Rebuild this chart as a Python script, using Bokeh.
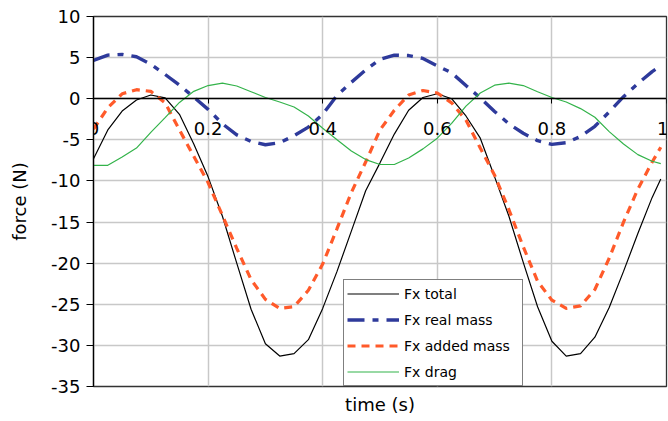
from bokeh.plotting import figure
from bokeh.models import (Range1d, FixedTicker, Legend, LegendItem, Title)
from bokeh.embed import file_html
from bokeh.resources import INLINE

# ---- data ----
time_s = [0.0, 0.025, 0.05, 0.075, 0.1, 0.125, 0.15, 0.175, 0.2, 0.225,
          0.25, 0.275, 0.3, 0.325, 0.35, 0.375, 0.4, 0.425, 0.45, 0.475,
          0.5, 0.525, 0.55, 0.575, 0.6, 0.625, 0.65, 0.675, 0.7, 0.725,
          0.75, 0.775, 0.8, 0.825, 0.85, 0.875, 0.9, 0.925, 0.95, 0.975, 0.99]

fx_total = [-7.3, -3.8, -1.5, -0.15, 0.45, 0.1, -1.9, -5.5, -9.5, -14.3,
            -20.0, -25.6, -29.8, -31.3, -31.0, -29.3, -25.5, -21.0, -16.1, -11.2,
            -7.8, -4.3, -1.4, 0.15, 0.6, 0.0, -2.1, -4.8, -9.5, -14.3,
            -19.9, -25.3, -29.5, -31.3, -31.0, -29.0, -25.4, -21.0, -16.4, -12.0, -9.75]

fx_real_mass = [4.65, 5.3, 5.4, 5.1, 4.2, 2.95, 1.65, 0.2, -1.3, -3.05,
                -4.4, -5.2, -5.6, -5.35, -4.5, -3.45, -1.9, 0.4, 2.0, 3.5,
                4.8, 5.3, 5.25, 4.9, 4.0, 3.15, 1.6, 0.1, -1.55, -3.05,
                -4.2, -5.1, -5.55, -5.35, -4.6, -3.35, -1.6, 0.25, 1.85, 3.3, 4.0]

fx_added_mass = [-3.7, -1.1, 0.6, 1.1, 0.9, -0.5, -3.8, -7.0, -10.2, -14.2,
                 -18.2, -22.0, -24.4, -25.5, -25.3, -23.3, -20.1, -15.8, -11.4, -7.7,
                 -3.8, -1.4, 0.45, 1.0, 0.7, -0.5, -2.6, -6.0, -9.3, -13.5,
                 -18.0, -22.2, -24.5, -25.5, -25.2, -23.2, -19.4, -15.0, -11.0, -7.7, -5.9]

fx_drag = [-8.1, -8.1, -7.1, -6.0, -4.1, -2.3, -0.45, 0.9, 1.6, 1.9,
           1.55, 0.85, 0.15, -0.4, -1.0, -2.1, -3.6, -5.0, -6.35, -7.4,
           -8.0, -8.0, -7.2, -6.1, -4.8, -3.0, -0.9, 0.7, 1.65, 1.9,
           1.6, 0.85, 0.15, -0.4, -1.2, -2.25, -4.0, -5.5, -6.8, -7.6, -7.9]

series_names = ["Fx total", "Fx real mass", "Fx added mass", "Fx drag"]

x_ticks = [0, 0.2, 0.4, 0.6, 0.8, 1]
x_tick_labels = ["0", "0.2", "0.4", "0.6", "0.8", "1"]
y_ticks = [-35, -30, -25, -20, -15, -10, -5, 0, 5, 10]
y_tick_labels = ["-35", "-30", "-25", "-20", "-15", "-10", "-5", "0", "5", "10"]

FONT = "DejaVu Sans"

p = figure(width=668, height=421, x_range=Range1d(0, 1), y_range=Range1d(-35, 10),
           output_backend="svg", toolbar_location=None,
           min_border_left=93, min_border_right=2, min_border_top=16, min_border_bottom=35)

p.background_fill_color = "white"
p.border_fill_color = "white"
p.outline_line_color = "#333333"
p.outline_line_width = 1.3

# x axis drawn on the zero line
xa = p.xaxis[0]
xa.ticker = FixedTicker(ticks=x_ticks)
xa.major_label_overrides = {t: s for t, s in zip(x_ticks, x_tick_labels)}
xa.fixed_location = 0
xa.axis_line_color = "black"
xa.axis_line_width = 1.3
xa.major_tick_in = 0
xa.major_tick_out = 5
xa.major_tick_line_color = "black"
xa.minor_tick_line_color = None
xa.major_label_standoff = 18
xa.major_label_text_font = FONT
xa.major_label_text_font_size = "18px"
xa.major_label_text_color = "black"

ya = p.yaxis[0]
ya.ticker = FixedTicker(ticks=y_ticks)
ya.major_label_overrides = {t: s for t, s in zip(y_ticks, y_tick_labels)}
ya.axis_label = "force (N)"
ya.axis_label_text_font = FONT
ya.axis_label_text_font_size = "18px"
ya.axis_label_text_font_style = "normal"
ya.axis_label_text_color = "black"
ya.axis_label_standoff = 18
ya.axis_line_color = "black"
ya.axis_line_width = 1.3
ya.major_tick_in = 0
ya.major_tick_out = 7
ya.major_tick_line_color = "black"
ya.minor_tick_line_color = None
ya.major_label_standoff = 6
ya.major_label_text_font = FONT
ya.major_label_text_font_size = "18px"
ya.major_label_text_color = "black"

p.xgrid.grid_line_color = "#c8c8c8"
p.xgrid.grid_line_width = 1.5
p.ygrid.grid_line_color = "#c8c8c8"
p.ygrid.grid_line_width = 1.5

p.add_layout(Title(text="time (s)", align="center", text_font=FONT, text_font_size="18px",
                   text_font_style="normal", text_color="black", standoff=11), "below")

r_total = p.line(time_s, fx_total, line_color="black", line_width=1.2)
r_real = p.line(time_s, fx_real_mass, line_color="#2E3A9B", line_width=3.4,
                line_dash="17 8 6 8")
r_added = p.line(time_s, fx_added_mass, line_color="#FF5A2A", line_width=3.2,
                 line_dash="8 6")
r_drag = p.line(time_s, fx_drag, line_color="#33B34A", line_width=1.2)

legend = Legend(items=[LegendItem(label=n, renderers=[r]) for n, r in
                       zip(series_names, [r_total, r_real, r_added, r_drag])],
                location=(250, 0), padding=3, spacing=5, margin=0,
                label_height=21, glyph_height=21, glyph_width=52, label_width=115,
                label_standoff=5, label_text_font=FONT, label_text_font_size="14px",
                label_text_color="black", border_line_color="black", border_line_width=1.3,
                background_fill_color="white", background_fill_alpha=1.0)
p.add_layout(legend)

open("out.html", "w").write(file_html(p, INLINE))
